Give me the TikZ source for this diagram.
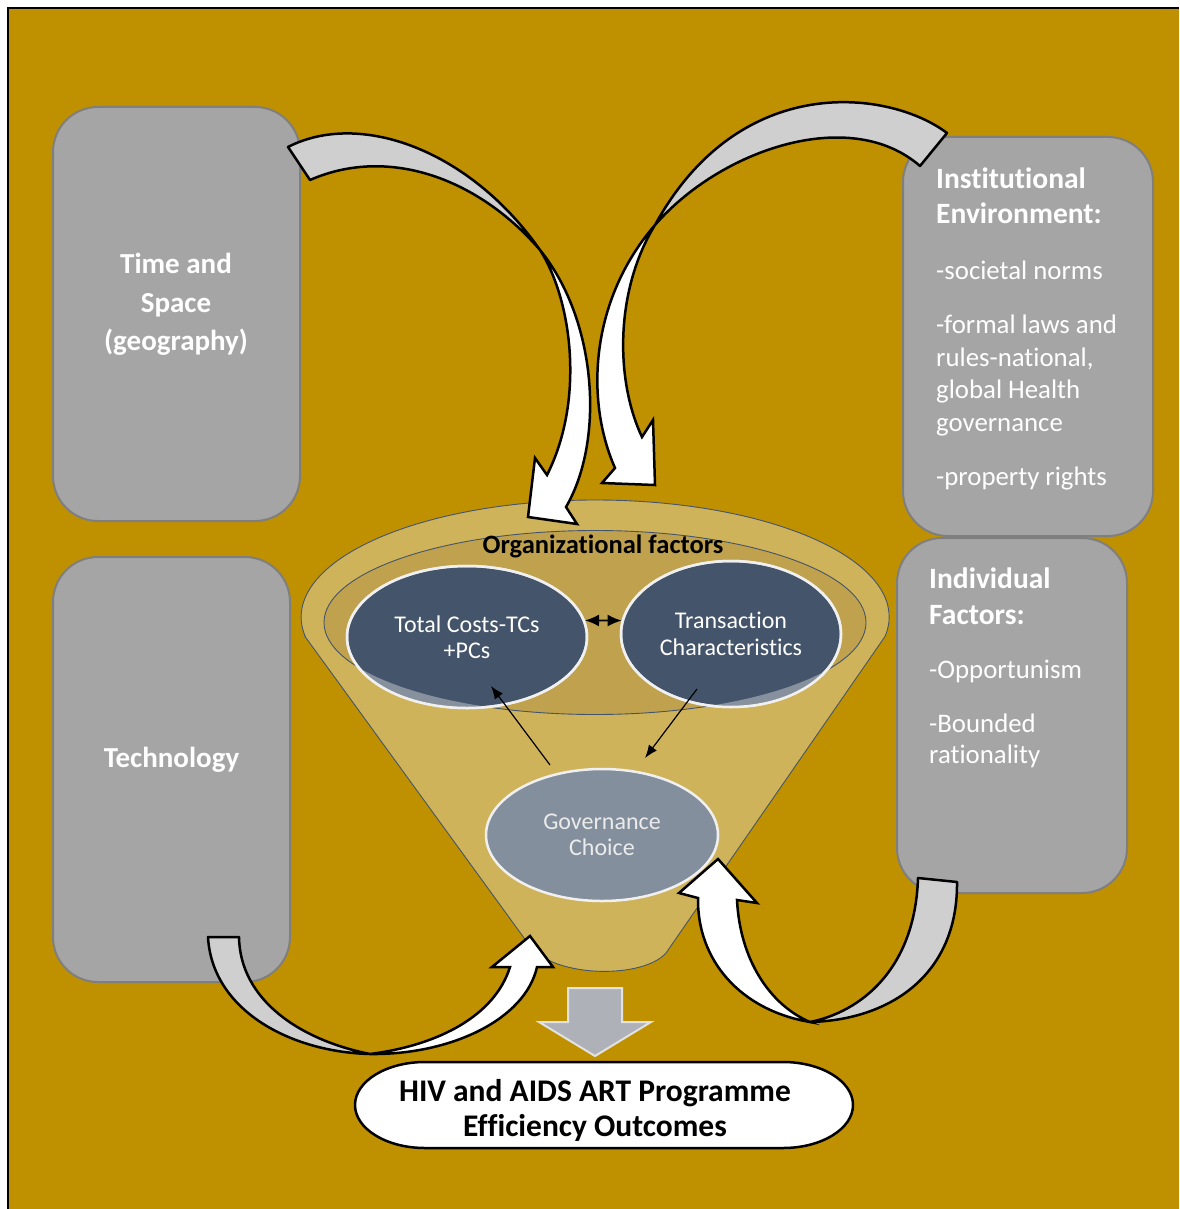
\documentclass[tikz,border=0pt]{standalone}
\usepackage{fontspec}
\setmainfont{Carlito}[Ligatures=NoCommon]
\usetikzlibrary{arrows.meta,shapes.geometric}

\definecolor{gold}{HTML}{BF9000}
\definecolor{boxgray}{HTML}{A5A5A5}
\definecolor{boxedge}{HTML}{7F7F7F}
\definecolor{funnelout}{HTML}{CFB35B}
\definecolor{funnelin}{HTML}{C0A24E}
\definecolor{slate}{HTML}{44546A}
\definecolor{govgray}{HTML}{848F9D}
\definecolor{crescent}{HTML}{87919E}
\definecolor{rim}{HTML}{F0F0F0}
\definecolor{ribbon}{HTML}{CFCFCF}
\definecolor{downgray}{HTML}{AEB1B8}
\definecolor{downedge}{HTML}{E2E2E2}

\begin{document}
\begin{tikzpicture}[x=1pt,y=-1pt,
  graybox/.style={draw=boxedge, line width=2pt, fill=boxgray, rounded corners=45pt, inner sep=0pt},
  centerhead/.style={anchor=base, inner sep=0pt, text=white, font=\fontsize{29}{35}\selectfont\bfseries},
  boxhead/.style={anchor=base west, inner sep=0pt, text=white, font=\fontsize{29.5}{35}\selectfont\bfseries},
  boxitem/.style={anchor=base west, inner sep=0pt, text=white, font=\fontsize{26.8}{33}\selectfont},
  factor/.style={ellipse, draw=rim, line width=2.5pt, inner sep=0pt, align=center,
    font=\fontsize{24}{26.5}\selectfont},
  smallarrow/.style={-{Latex[length=13pt,width=10pt]}, line width=1.2pt},
  ribbonback/.style={fill=ribbon, draw=black, line width=2.5pt, line join=round},
  ribbonfront/.style={fill=white, draw=black, line width=2.5pt, line join=miter}]

\useasboundingbox (0,0) rectangle (1179,1209);

% page ground
\fill[gold] (8,8) rectangle (1179,1209);
\draw[line width=1.5pt] (8,1209) -- (8,8) -- (1179,8);

% side boxes
\node[graybox, minimum width=247pt, minimum height=414pt] (timebox) at (176.5,314) {};
\node[graybox, minimum width=237pt, minimum height=425pt] (techbox) at (171.5,769.5) {};
\node[graybox, minimum width=250pt, minimum height=399pt] (instbox) at (1028,336.5) {};
\node[graybox, minimum width=230pt, minimum height=355pt] (indbox) at (1012,715.5) {};

\node[centerhead] (time1) at (176,273) {Time and};
\node[centerhead] (time2) at (176,312) {Space};
\node[centerhead] (time3) at (176,350) {(geography)};
\node[centerhead] (tech) at (171.5,767) {Technology};

\node[boxhead] (inst1) at (936,189) {Institutional};
\node[boxhead] (inst2) at (936,223) {Environment:};
\node[boxitem] (inst3) at (936,279) {-societal norms};
\node[boxitem] (inst4) at (936,333) {-formal laws and};
\node[boxitem] (inst5) at (936,366) {rules-national,};
\node[boxitem] (inst6) at (936,398) {global Health};
\node[boxitem] (inst7) at (936,431) {governance};
\node[boxitem] (inst8) at (936,485) {-property rights};

\node[boxhead] (ind1) at (929,588) {Individual};
\node[boxhead] (ind2) at (929,624) {Factors:};
\node[boxitem] (ind3) at (929,678) {-Opportunism};
\node[boxitem] (ind4) at (929,732) {-Bounded};
\node[boxitem] (ind5) at (929,763) {rationality};

% funnel body with its open rim
\draw[fill=funnelout, draw=slate, line width=0.9pt]
  (305,636.5) -- (527,942) .. controls (548,978) and (642,980) .. (666,953)
  -- (885,636.5) arc[start angle=9.6, end angle=-189.6, x radius=294, y radius=117] -- cycle;
\node[ellipse, fill=funnelin, draw=slate, line width=0.9pt, inner sep=0pt,
  minimum width=542pt, minimum height=184pt] (orgring) at (595,622.5) {};

\node[anchor=base, inner sep=0pt, font=\fontsize{26.5}{30}\selectfont\bfseries] (orgtitle) at (603,553) {Organizational factors};

% factors inside the funnel
\node[factor, fill=slate, text=white, minimum width=240pt, minimum height=142pt] (tc) at (467,637) {Total Costs-TCs\\+PCs};
\node[factor, fill=slate, text=white, minimum width=220pt, minimum height=146pt] (tr) at (731,634) {Transaction\\Characteristics};

% lighter parts of the factors lying outside the inner rim
\begin{scope}
  \clip (tc.center) ellipse [x radius=120, y radius=71];
  \fill[crescent, even odd rule] (300,560) rectangle (900,760) (orgring.center) ellipse [x radius=271, y radius=92];
\end{scope}
\begin{scope}
  \clip (tr.center) ellipse [x radius=110, y radius=73];
  \fill[crescent, even odd rule] (300,560) rectangle (900,760) (orgring.center) ellipse [x radius=271, y radius=92];
\end{scope}
\draw[rim, line width=2.5pt] (tc.center) ellipse [x radius=120, y radius=71];
\draw[rim, line width=2.5pt] (tr.center) ellipse [x radius=110, y radius=73];

\node[factor, fill=govgray, text=white!92!black, minimum width=232pt, minimum height=132pt] (gov) at (602,835) {Governance\\Choice};

% links between the factors
\draw[{Latex[length=14pt,width=12pt]}-{Latex[length=14pt,width=12pt]}, line width=1.6pt] (tc.8) -- (tr.173);
\coordinate (govout) at (550,765);
\coordinate (tcin) at (491,686);
\coordinate (trout) at (697,689);
\coordinate (govin) at (645,758);
\draw[smallarrow] (govout) -- (tcin);
\draw[smallarrow] (trout) -- (govin);

% twisted ribbon arrows feeding the funnel
\draw[ribbonback] (288,147) .. controls (360,110) and (470,150) .. (540,250)
  .. controls (480,180) and (390,145) .. (310,180) -- cycle;
\draw[ribbonfront] (540,250) .. controls (572,300) and (585,400) .. (547,475)
  -- (535,458) -- (528,517) -- (577,524) -- (566,507)
  .. controls (605,440) and (597,320) .. (540,250) -- cycle;

\draw[ribbonback] (947,133) .. controls (890,90) and (740,70) .. (655,225)
  .. controls (720,150) and (850,105) .. (920,166) -- cycle;
\draw[ribbonfront] (655,225) .. controls (590,300) and (585,400) .. (615,468)
  -- (602,483) -- (655,485) -- (653,420) -- (642,437)
  .. controls (615,380) and (615,290) .. (655,225) -- cycle;

\draw[ribbonback] (208,937) .. controls (212,1010) and (290,1052) .. (370,1054)
  .. controls (300,1040) and (240,1000) .. (239,937) -- cycle;
\draw[ribbonfront] (370,1054) .. controls (450,1055) and (525,1020) .. (537,967)
  -- (553,967) -- (530,936) -- (492,967) -- (510,967)
  .. controls (495,1015) and (440,1045) .. (370,1054) -- cycle;

\draw[ribbonback] (957,882) .. controls (958,975) and (890,1020) .. (810,1022)
  .. controls (860,1012) and (915,970) .. (918,878) -- cycle;
\draw[ribbonfront] (810,1022) .. controls (740,1010) and (697,960) .. (698,898)
  -- (679,893) -- (718,859) -- (757,903) -- (737,900)
  .. controls (740,960) and (770,1005) .. (810,1022) -- cycle;

% output of the funnel
\draw[fill=downgray, draw=downedge, line width=2pt, line join=miter]
  (568,988) -- (622,988) -- (622,1022) -- (651,1022) -- (595,1056) -- (539,1022) -- (568,1022) -- cycle;

\draw[fill=white, draw=black, line width=2.5pt]
  (425,1062) -- (783,1062) arc[start angle=-90, end angle=90, x radius=70, y radius=43]
  -- (425,1148) arc[start angle=90, end angle=270, x radius=70, y radius=43] -- cycle;
\node[inner sep=0pt, align=center, font=\fontsize{31.5}{35}\selectfont\bfseries] (outcome) at (595,1110)
  {HIV and AIDS ART Programme\\Efficiency Outcomes};

\end{tikzpicture}
\end{document}
